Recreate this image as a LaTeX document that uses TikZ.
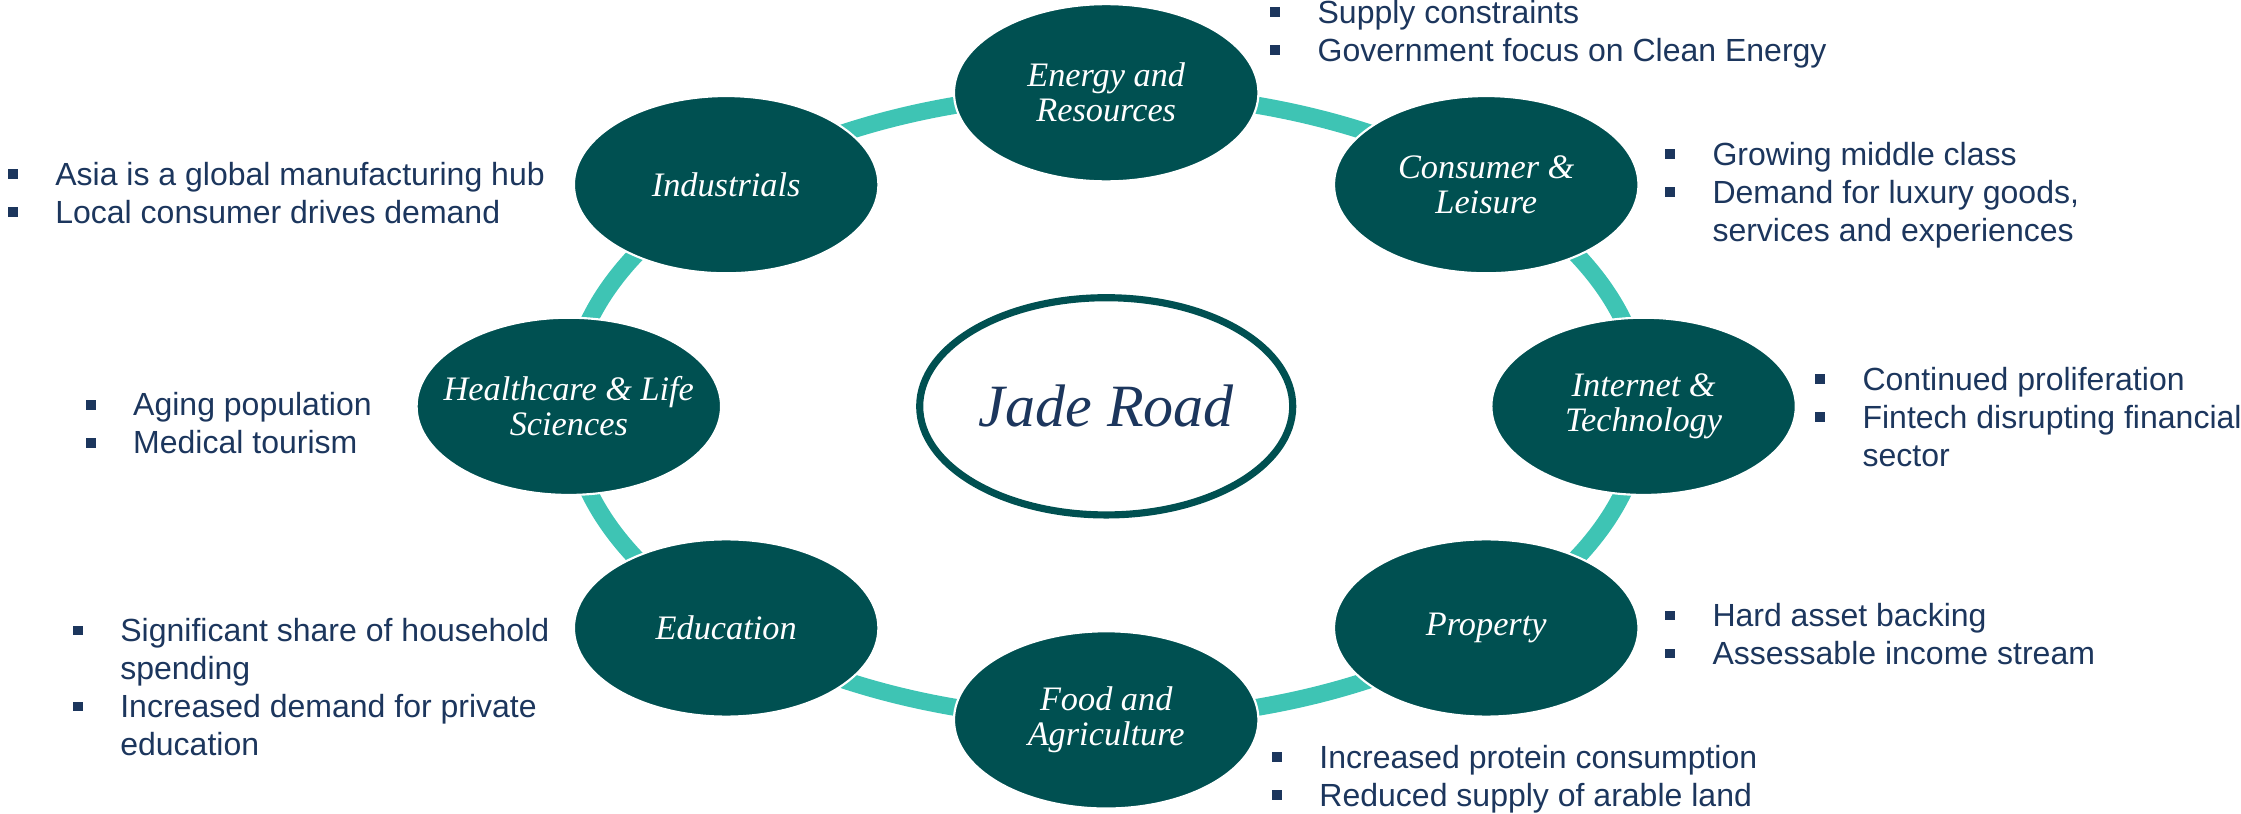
\documentclass[tikz,border=0pt]{standalone}
\usepackage{fontspec}
\setmainfont{Liberation Serif}
\newfontfamily\bulletfont{Liberation Sans}
\usetikzlibrary{shapes.geometric}
\definecolor{darkteal}{RGB}{0,80,81}
\definecolor{ringteal}{RGB}{62,196,180}
\definecolor{navy}{RGB}{28,54,93}
\newcommand\bsq{\makebox[33pt][l]{\rule[4.4pt]{6.8pt}{6.8pt}}}
\newcommand\bind{\hspace*{33pt}}
\tikzset{
  sector/.style={ellipse, fill=darkteal, draw=white, line width=1.5pt, minimum width=213pt, minimum height=124pt, inner sep=0pt},
  sectorlabel/.style={text=white, align=center, inner sep=0pt, font=\itshape\fontsize{24}{24.5}\selectfont},
  bullets/.style={anchor=base west, inner sep=0pt, text=navy, font=\bulletfont\fontsize{22.4}{26.6}\selectfont},
  ring/.style={draw=ringteal, line width=12pt},
  core/.style={ellipse, draw=darkteal, line width=5pt, fill=white, minimum width=261pt, minimum height=152pt, inner sep=0pt, text=navy, font=\itshape\fontsize{42}{44}\selectfont}
}
\begin{document}
\begin{tikzpicture}[x=1pt,y=-1pt]
\path[use as bounding box] (0,0) rectangle (1568,569);
\coordinate (ctr) at (774,284.3);
\draw[ring] (ctr) ellipse [x radius=376pt, y radius=219.4pt];
% sectors
\node[sector] (en) at (774,64.9) {};
\node[sector] (co) at (1039.9,129.2) {};
\node[sector] (it) at (1150,284.3) {};
\node[sector] (pr) at (1039.9,439.4) {};
\node[sector] (fo) at (774,503.7) {};
\node[sector] (ed) at (508.1,439.4) {};
\node[sector] (he) at (398,284.3) {};
\node[sector] (in) at (508.1,129.2) {};
\node[sectorlabel] (enl) at (en) {Energy and\\Resources};
\node[sectorlabel] (col) at (co) {Consumer \&\\Leisure};
\node[sectorlabel] (itl) at (it) {Internet \&\\Technology};
\node[sectorlabel] (prl) at (pr) {Property};
\node[sectorlabel] (fol) at (fo) {Food and\\Agriculture};
\node[sectorlabel] (edl) at (ed) {Education};
\node[sectorlabel] (hel) at (he) {Healthcare \& Life\\Sciences};
\node[sectorlabel] (inl) at (in) {Industrials};
% centre
\node[core] (jade) at (ctr) {Jade Road};
% bullet lists
\node[bullets] (enb) at (888.7,16.1) {\begin{tabular}[t]{@{}l@{}}\bsq Supply constraints\\\bsq Government focus on Clean Energy\end{tabular}};
\node[bullets] (inb) at (5.5,129.5) {\begin{tabular}[t]{@{}l@{}}\bsq Asia is a global manufacturing hub\\\bsq Local consumer drives demand\end{tabular}};
\node[bullets] (cob) at (1165,115.5) {\begin{tabular}[t]{@{}l@{}}\bsq Growing middle class\\\bsq Demand for luxury goods,\\\bind services and experiences\end{tabular}};
\node[bullets] (itb) at (1270,273) {\begin{tabular}[t]{@{}l@{}}\bsq Continued proliferation\\\bsq Fintech disrupting financial\\\bind sector\end{tabular}};
\node[bullets] (heb) at (60,291) {\begin{tabular}[t]{@{}l@{}}\bsq Aging population\\\bsq Medical tourism\end{tabular}};
\node[bullets] (edb) at (51,449) {\begin{tabular}[t]{@{}l@{}}\bsq Significant share of household\\\bind spending\\\bsq Increased demand for private\\\bind education\end{tabular}};
\node[bullets] (prb) at (1165,438.5) {\begin{tabular}[t]{@{}l@{}}\bsq Hard asset backing\\\bsq Assessable income stream\end{tabular}};
\node[bullets] (fob) at (890,537.5) {\begin{tabular}[t]{@{}l@{}}\bsq Increased protein consumption\\\bsq Reduced supply of arable land\end{tabular}};
\end{tikzpicture}
\end{document}
